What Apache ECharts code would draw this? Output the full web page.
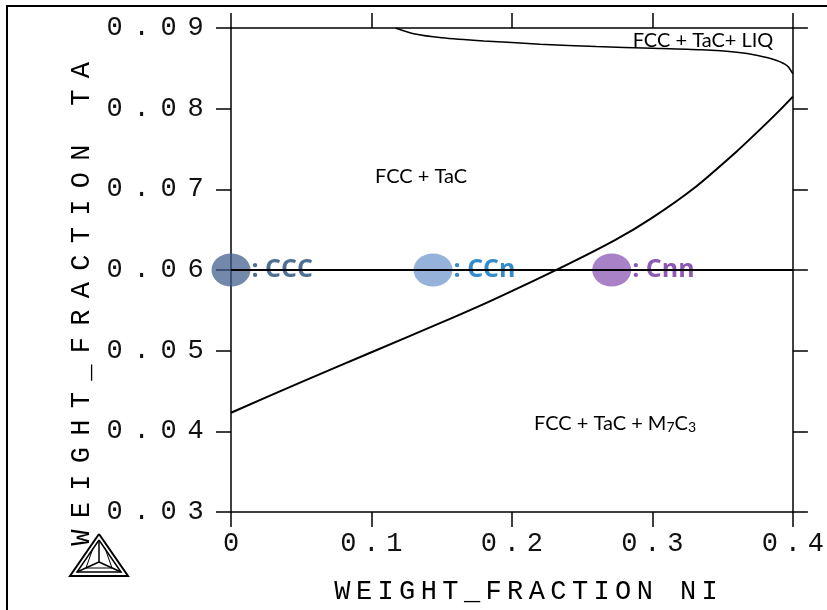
<!DOCTYPE html>
<html>
<head>
<meta charset="utf-8">
<script src="https://cdn.jsdelivr.net/npm/echarts@6/dist/echarts.min.js"></script>
<style>html,body{margin:0;padding:0;background:#fff}#c{width:827px;height:610px}</style>
</head>
<body>
<div id="c"></div>
<script>
// ---- data ----
const xTickLabels = ['0', '0.1', '0.2', '0.3', '0.4'];
const yTickLabels = ['0.03', '0.04', '0.05', '0.06', '0.07', '0.08', '0.09'];
const xAxisTitle = 'WEIGHT_FRACTION NI';
const yAxisTitle = 'WEIGHT_FRACTION TA';

// lower boundary FCC+TaC / FCC+TaC+M7C3
const lowerX = [0, 0.05, 0.10, 0.15, 0.1865, 0.2327, 0.2733, 0.30, 0.33, 0.36, 0.3765, 0.39, 0.40];
const lowerY = [0.0423, 0.0461, 0.0498, 0.0535, 0.0563, 0.0601, 0.0637, 0.0665, 0.0702, 0.0747, 0.0774, 0.0797, 0.0815];
// upper boundary FCC+TaC / FCC+TaC+LIQ
const upperX = [0.117, 0.13, 0.15, 0.18, 0.22, 0.26, 0.30, 0.335, 0.36, 0.375, 0.388, 0.396, 0.40];
const upperY = [0.0900, 0.0893, 0.0888, 0.0884, 0.0880, 0.0877, 0.0875, 0.0873, 0.0870, 0.0866, 0.0860, 0.0853, 0.0843];
// composition line
const sectionX = [0, 0.4];
const sectionY = [0.06, 0.06];
// alloy markers
const markerNames = ['CCC', 'CCn', 'Cnn'];
const markerX = [0, 0.1438, 0.271];
const markerY = [0.06, 0.06, 0.06];
const regionLabels = ['FCC + TaC', 'FCC + TaC+ LIQ'];

// ---- styles ----
const markerFill = ['rgba(60,92,138,0.9)', 'rgba(112,152,206,0.93)', 'rgba(138,86,178,0.93)'];
const markerText = ['#1f4e79', '#0070c0', '#7030a0'];

const zip = (a, b) => a.map((v, i) => [v, b[i]]);
const spaced = s => s.split('').map(ch => '{c|' + ch + '}').join('');
const plotFont = 'Liberation Mono';
const labelFont = 'Lato';

const chart = echarts.init(document.getElementById('c'), null, {renderer: 'canvas'});

const axisLine = {show: true, onZero: false, lineStyle: {color: '#000', width: 1.5}};
const axisTick = {show: true, inside: false, length: 15, lineStyle: {color: '#000', width: 1.5}};

const tickRichX = {c: {width: 23, align: 'center', fontFamily: plotFont, fontSize: 27, color: '#111'}};
const tickRichY = {c: {width: 27, align: 'center', fontFamily: plotFont, fontSize: 27, color: '#111'}};

function triPts(cx, top, bottom, half) { return [[cx, top], [cx - half, bottom], [cx + half, bottom], [cx, top]]; }

const option = {
  animation: false,
  backgroundColor: '#fff',
  grid: {left: 231, right: 34, top: 28, bottom: 98, containLabel: false},
  xAxis: [
    {type: 'value', position: 'bottom', min: 0, max: 0.4, interval: 0.1,
      axisLine, axisTick, splitLine: {show: false},
      axisLabel: {margin: 18, rich: tickRichX,
        formatter: v => spaced(xTickLabels[Math.round(v / 0.1)])}},
    {type: 'value', position: 'top', min: 0, max: 0.4, interval: 0.1,
      axisLine, axisTick, splitLine: {show: false}, axisLabel: {show: false}}
  ],
  yAxis: [
    {type: 'value', position: 'left', min: 0.03, max: 0.09, interval: 0.01,
      axisLine, axisTick, splitLine: {show: false},
      axisLabel: {margin: 22, rich: tickRichY,
        formatter: v => spaced(yTickLabels[Math.round((v - 0.03) / 0.01)])}},
    {type: 'value', position: 'right', min: 0.03, max: 0.09, interval: 0.01,
      axisLine, axisTick, splitLine: {show: false}, axisLabel: {show: false}}
  ],
  series: [
    {type: 'scatter', z: 1, symbol: 'circle', symbolSize: [39, 33],
      data: markerX.map((x, i) => ({
        value: [x, markerY[i]],
        itemStyle: {color: markerFill[i]},
        label: {show: true, position: 'right', distance: 1, formatter: ': ' + markerNames[i],
          color: markerText[i], fontFamily: 'Open Sans', fontWeight: 'bold', fontSize: 25}
      }))},
    {type: 'line', z: 3, data: zip(sectionX, sectionY), symbol: 'none',
      lineStyle: {color: '#000', width: 1.8}},
    {type: 'line', z: 3, data: zip(lowerX, lowerY), symbol: 'none', smooth: 0.25,
      lineStyle: {color: '#000', width: 2}},
    {type: 'line', z: 3, data: zip(upperX, upperY), symbol: 'none', smooth: 0.25,
      lineStyle: {color: '#000', width: 1.5}}
  ],
  graphic: [
    {type: 'rect', silent: true, z: 10, shape: {x: 7, y: 6, width: 900, height: 700},
      style: {fill: 'none', stroke: '#000', lineWidth: 2}},
    {type: 'text', z: 10, x: 526, y: 592,
      style: {text: spaced(xAxisTitle), align: 'center', verticalAlign: 'middle',
        rich: {c: {width: 21.6, align: 'center', fontFamily: plotFont, fontSize: 27, color: '#111'}}}},
    {type: 'text', z: 10, x: 82, y: 304, rotation: Math.PI / 2,
      style: {text: spaced(yAxisTitle), align: 'center', verticalAlign: 'middle',
        rich: {c: {width: 27.5, align: 'center', fontFamily: plotFont, fontSize: 27, color: '#111'}}}},
    {type: 'text', z: 10, x: 421, y: 177,
      style: {text: regionLabels[0], align: 'center', verticalAlign: 'middle',
        fontFamily: labelFont, fontSize: 20, fill: '#000'}},
    {type: 'text', z: 10, x: 703, y: 41,
      style: {text: regionLabels[1], align: 'center', verticalAlign: 'middle',
        fontFamily: labelFont, fontSize: 20, fill: '#000'}},
    {type: 'text', z: 10, x: 615, y: 421,
      style: {text: '{n|FCC + TaC + M}{s|7}{n|C}{s|3}', align: 'center', verticalAlign: 'middle',
        rich: {n: {fontFamily: labelFont, fontSize: 20, color: '#000', lineHeight: 26, verticalAlign: 'bottom'},
               s: {fontFamily: labelFont, fontSize: 14, color: '#000', lineHeight: 26, verticalAlign: 'bottom', padding: [8, 0, 0, 0]}}}},
    // Thermo-Calc style logo
    {type: 'polyline', z: 10, shape: {points: triPts(99, 534, 576, 29)}, style: {fill: 'none', stroke: '#000', lineWidth: 2}},
    {type: 'polyline', z: 10, shape: {points: triPts(99, 540, 572, 22)}, style: {fill: 'none', stroke: '#000', lineWidth: 1.5}},
    {type: 'polyline', z: 10, shape: {points: [[99, 540], [99, 562], [77, 572]]}, style: {fill: 'none', stroke: '#000', lineWidth: 1.5}},
    {type: 'polyline', z: 10, shape: {points: [[99, 562], [121, 572]]}, style: {fill: 'none', stroke: '#000', lineWidth: 1.5}},
    {type: 'polyline', z: 10, shape: {points: [[93, 548], [86, 568], [112, 568], [105, 548]]}, style: {fill: 'none', stroke: '#000', lineWidth: 1}}
  ]
};
chart.setOption(option);
</script>
</body>
</html>
